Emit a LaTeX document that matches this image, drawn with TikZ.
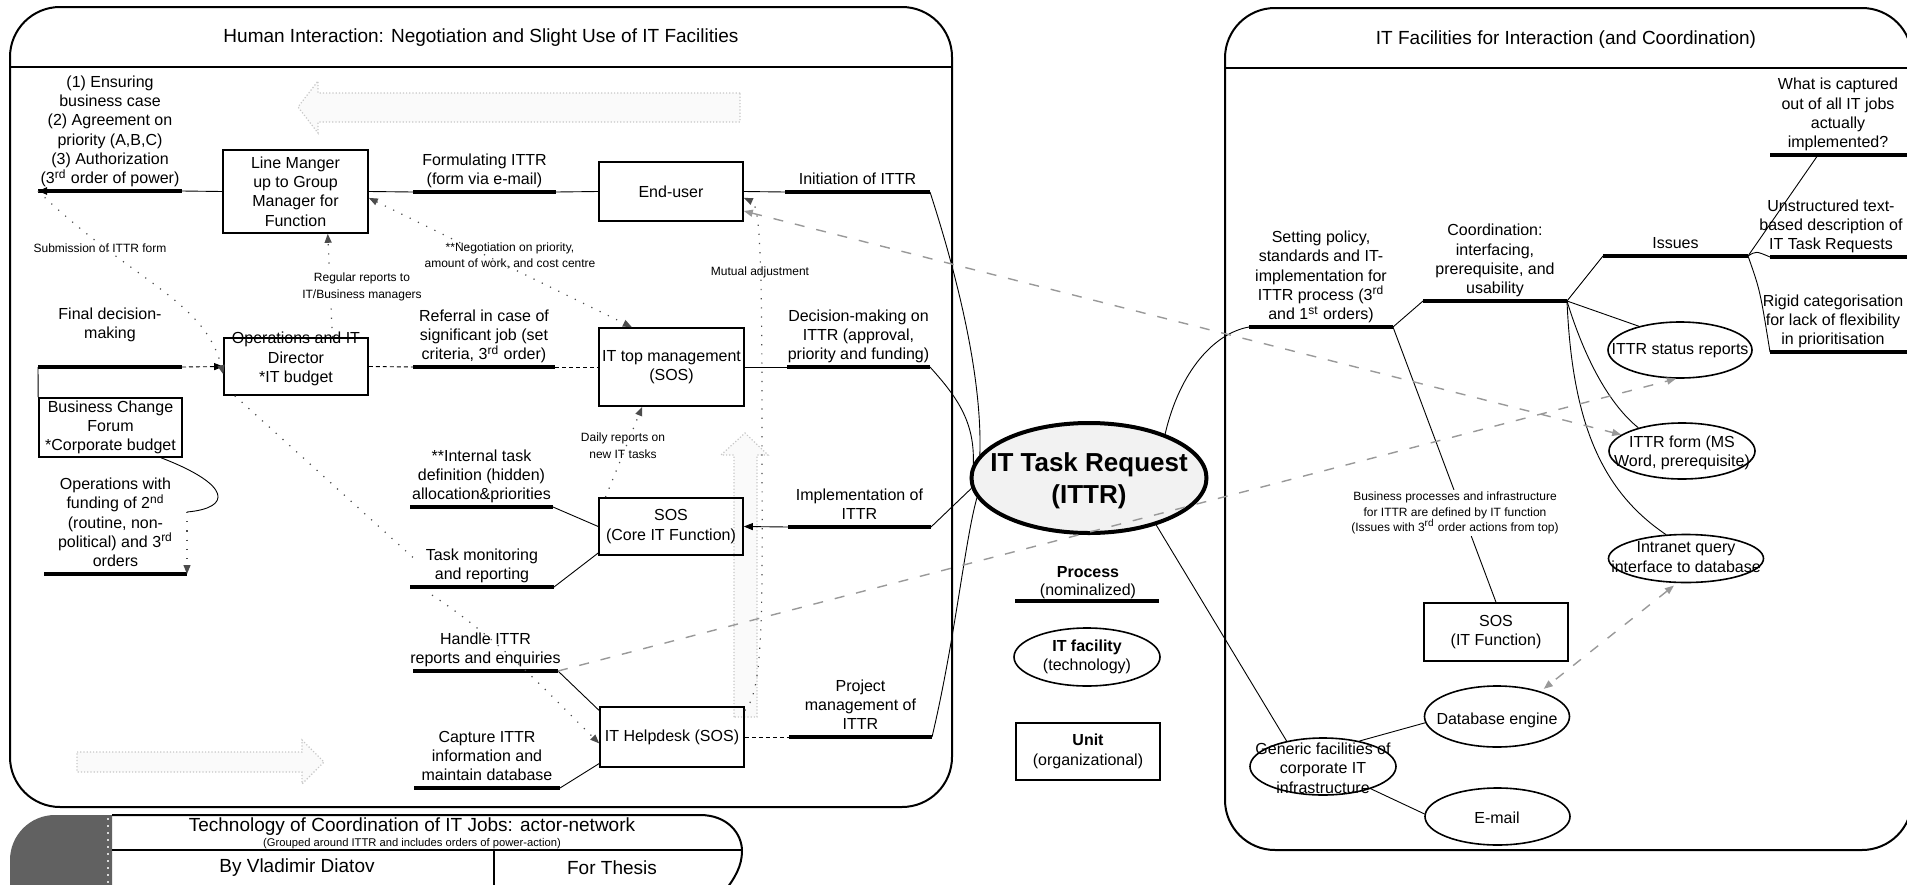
\documentclass[tikz,border=0pt]{standalone}
\usepackage{fontspec}
\setmainfont{Liberation Sans}
\usetikzlibrary{shapes.geometric,arrows.meta,calc}

\newcommand\fsmain{\fontsize{8}{9.65}\selectfont}
\newcommand\fsnote{\fontsize{6}{8.3}\selectfont}
\newcommand\fshead{\fontsize{9.5}{11}\selectfont}
\newcommand\fstiny{\fontsize{5.6}{6.4}\selectfont}
\newcommand\fscore{\fontsize{13}{16}\selectfont\bfseries}

\begin{document}
\begin{tikzpicture}[x=0.5pt, y=-0.5pt,
  panel/.style={line width=1pt},
  unitbox/.style={draw, line width=0.8pt, rectangle, inner sep=0pt, font=\fsmain, align=center},
  facility/.style={draw, ellipse, line width=0.8pt, inner sep=0pt},
  ftext/.style={font=\fsmain, align=center, inner sep=0pt},
  plabel/.style={font=\fsmain, align=center, inner sep=0pt, anchor=south, execute at end node=\strut},
  note/.style={font=\fsnote, align=center, inner sep=0pt},
  bar/.style={line width=1.8pt},
  link/.style={line width=0.45pt},
  finedash/.style={line width=0.45pt, dash pattern=on 2pt off 1.5pt},
  dotlink/.style={line width=0.6pt, dash pattern=on 0.6pt off 4pt, black!70},
  dashlink/.style={line width=0.7pt, dash pattern=on 5pt off 6pt, black!40},
  tip/.style={-{Triangle[length=4.5pt,width=3.5pt]}},
  tips/.style={{Triangle[length=4.5pt,width=3.5pt]}-{Triangle[length=4.5pt,width=3.5pt]}},
  ghost/.style={fill=black!2, draw=black!22, densely dotted, line width=0.6pt},
]
\useasboundingbox (0,0) rectangle (1907,884);

% ---------- faint block arrows in the background ----------
\path[ghost] (740,93) -- (318,93) -- (318,81) -- (298,107) -- (318,133) -- (318,122) -- (740,122) -- cycle;
\path[ghost] (77,752) -- (302,752) -- (302,740) -- (324,762) -- (302,784) -- (302,772) -- (77,772) -- cycle;
\path[ghost] (734,717) -- (734,455) -- (721,455) -- (745,433) -- (768,455) -- (757,455) -- (757,717) -- cycle;

% ---------- panels ----------
\draw[panel, rounded corners=25pt] (10,7) rectangle (952,807);
\draw[panel] (10,67) -- (952,67);
\draw[panel, rounded corners=25pt] (1225,8) rectangle (1912,850);
\draw[panel] (1225,68) -- (1912,68);
\node[font=\fshead] (titleL) at (481,38) {Human Interaction: Negotiation and Slight Use of IT Facilities};
\node[font=\fshead] (titleR) at (1566,40) {IT Facilities for Interaction (and Coordination)};

% ---------- footer ----------
\fill[black!62] (112,815) -- (55,815) arc[start angle=270, end angle=180, radius=45] -- (10,910) -- (112,910) -- cycle;
\draw[black!15, line width=1pt, dash pattern=on 1pt off 2.5pt] (108,818) -- (108,884);
\draw[panel] (112,815) -- (700,815) .. controls (728,815) and (742,834) .. (742,851) .. controls (742,866) and (735,878) .. (724,892);
\draw[panel] (112,850) -- (742,850);
\draw[panel] (494,850) -- (494,892);
\node[font=\fshead] (ftitle) at (412,827) {Technology of Coordination of IT Jobs: actor-network};
\node[font=\fstiny] (fsub) at (412,844) {(Grouped around ITTR and includes orders of power-action)};
\node[font=\fshead] (fauthor) at (297,868) {By Vladimir Diatov};
\node[font=\fshead] (fthesis) at (612,868) {For Thesis};

% ---------- units (organizational) ----------
\node[unitbox, minimum width=72.5pt, minimum height=41.5pt] (lm) at (295.5,191.5) {Line Manger\\up to Group\\Manager for\\Function};
\node[unitbox, minimum width=72pt, minimum height=29.5pt] (eu) at (671,191.5) {End-user};
\node[unitbox, minimum width=72pt, minimum height=28.5pt] (ops) at (296,366.5) {};
\node[ftext] (opsT) at (296,359) {Operations and IT\\Director\\*IT budget};
\node[unitbox, minimum width=72.5pt, minimum height=39pt] (ittm) at (671.5,367) {IT top management\\(SOS)};
\node[unitbox, minimum width=71.5pt, minimum height=29.5pt] (bcf) at (110.5,427.5) {Business Change\\Forum\\*Corporate budget};
\node[unitbox, minimum width=72pt, minimum height=28.5pt] (sos) at (671,526.5) {SOS\\(Core IT Function)};
\node[unitbox, minimum width=72pt, minimum height=30pt] (hd) at (672,737) {IT Helpdesk (SOS)};
\node[unitbox, minimum width=72pt, minimum height=29pt] (sosit) at (1496,632) {SOS\\(IT Function)};

% ---------- central actor ----------
\node[draw, ellipse, line width=2pt, fill=black!5, minimum width=117.5pt, minimum height=55pt, inner sep=0pt] (ittr) at (1089,478) {};
\node[font=\fscore, align=center, inner sep=0pt] (ittrT) at (1089,481) {IT Task Request\\(ITTR)};

% ---------- legend ----------
\node[font=\fsmain\bfseries, inner sep=0pt] (legP) at (1088,572) {Process};
\node[ftext] (legPn) at (1088,591) {(nominalized)};
\coordinate (legBarL) at (1015,601); \coordinate (legBarR) at (1159,601);
\draw[bar] (legBarL) -- (legBarR);
\node[facility, minimum width=73pt, minimum height=29pt] (legF) at (1087,657) {};
\node[ftext] (legFT) at (1087,657) {\textbf{IT facility}\\(technology)};
\node[unitbox, minimum width=72pt, minimum height=28.5pt] (legU) at (1088,751.5) {\textbf{Unit}\\(organizational)};

% ---------- IT facilities (technology) ----------
\node[facility, minimum width=72pt, minimum height=28pt] (status) at (1680,350) {};
\node[ftext] (statusT) at (1680,351) {ITTR status reports};
\node[facility, minimum width=73pt, minimum height=28pt] (form) at (1682,451) {};
\node[ftext] (formT) at (1682,453) {ITTR form (MS\\Word, prerequisite)};
\node[facility, minimum width=77.5pt, minimum height=24pt] (intr) at (1686,558.5) {};
\node[ftext] (intrT) at (1686,557) {Intranet query\\interface to database};
\node[facility, minimum width=72.5pt, minimum height=30.5pt] (dbe) at (1497,716.5) {};
\node[ftext] (dbeT) at (1497,720) {Database engine};
\node[facility, minimum width=72.5pt, minimum height=28.5pt] (email) at (1497.5,816.5) {};
\node[ftext] (emailT) at (1497,818) {E-mail};
\node[facility, minimum width=73pt, minimum height=28.5pt] (gen) at (1323,766.5) {};
\node[ftext] (genT) at (1323,768) {Generic facilities of\\corporate IT\\infrastructure};

% ---------- processes (label over a heavy bar) ----------
\node[plabel] (lAuth) at (110,190) {(1) Ensuring\\business case\\(2) Agreement on\\priority (A,B,C)\\(3) Authorization\\(3\textsuperscript{rd} order of power)};
\coordinate (pAuthL) at (38,191); \coordinate (pAuthR) at (182,191);
\node[plabel] (lForm) at (484.5,191) {Formulating ITTR\\(form via e-mail)};
\coordinate (pFormL) at (413,192); \coordinate (pFormR) at (556,192);
\node[plabel] (lInit) at (857.5,191) {Initiation of ITTR};
\coordinate (pInitL) at (785,192); \coordinate (pInitR) at (930,192);
\node[plabel] (lFinal) at (110,345) {Final decision-\\making};
\coordinate (pFinalL) at (38,367); \coordinate (pFinalR) at (182,367);
\node[plabel] (lRef) at (484,366) {Referral in case of\\significant job (set\\criteria, 3\textsuperscript{rd} order)};
\coordinate (pRefL) at (413,367); \coordinate (pRefR) at (555,367);
\node[plabel] (lDec) at (858.5,366) {Decision-making on\\ITTR (approval,\\priority and funding)};
\coordinate (pDecL) at (787,367); \coordinate (pDecR) at (930,367);
\node[plabel] (lOpw) at (115.5,573) {Operations with\\funding of 2\textsuperscript{nd}\\(routine, non-\\political) and 3\textsuperscript{rd}\\orders};
\coordinate (pOpwL) at (44,574); \coordinate (pOpwR) at (187,574);
\node[plabel] (lInt) at (481.5,506) {**Internal task\\definition (hidden)\\allocation\&priorities};
\coordinate (pIntL) at (410,507); \coordinate (pIntR) at (553,507);
\node[plabel] (lMon) at (482,586) {Task monitoring\\and reporting};
\coordinate (pMonL) at (410,587); \coordinate (pMonR) at (554,587);
\node[plabel] (lImp) at (859.5,526) {Implementation of\\ITTR};
\coordinate (pImpL) at (788,527); \coordinate (pImpR) at (931,527);
\node[plabel] (lHan) at (485.5,670) {Handle ITTR\\reports and enquiries};
\coordinate (pHanL) at (413,671); \coordinate (pHanR) at (558,671);
\node[plabel] (lCap) at (487,787) {Capture ITTR\\information and\\maintain database};
\coordinate (pCapL) at (414,788); \coordinate (pCapR) at (560,788);
\node[plabel] (lProj) at (860.5,736) {Project\\management of\\ITTR};
\coordinate (pProjL) at (789,737); \coordinate (pProjR) at (932,737);

\node[plabel] (lSet) at (1321,326) {Setting policy,\\standards and IT-\\implementation for\\ITTR process (3\textsuperscript{rd}\\and 1\textsuperscript{st} orders)};
\coordinate (pSetL) at (1249,327); \coordinate (pSetR) at (1393,327);
\node[plabel] (lCoord) at (1495,300) {Coordination:\\interfacing,\\prerequisite, and\\usability};
\coordinate (pCoordL) at (1423,301); \coordinate (pCoordR) at (1567,301);
\node[plabel] (lIss) at (1675.5,255) {Issues};
\coordinate (pIssL) at (1603,256); \coordinate (pIssR) at (1748,256);
\node[plabel] (lWhat) at (1838,154) {What is captured\\out of all IT jobs\\actually\\implemented?};
\coordinate (pWhatL) at (1770,155); \coordinate (pWhatR) at (1915,155); \coordinate (pWhatJ) at (1818,155);
\node[plabel] (lUns) at (1831,256) {Unstructured text-\\based description of\\IT Task Requests};
\coordinate (pUnsL) at (1770,257); \coordinate (pUnsR) at (1915,257);
\node[plabel] (lRig) at (1833,351) {Rigid categorisation\\for lack of flexibility\\in prioritisation};
\coordinate (pRigL) at (1770,352); \coordinate (pRigR) at (1915,352);

\foreach \p in {Auth,Form,Init,Final,Ref,Dec,Opw,Int,Mon,Imp,Han,Cap,Proj,Set,Coord,Iss,What,Uns,Rig}
  \draw[bar] (p\p L) -- (p\p R);
\draw[tip, line width=1.2pt] (pAuthL) ++(10,0) -- (pAuthL);

% ---------- small notes ----------
\node[note] (nSub) at (100,248) {Submission of ITTR form};
\node[note] (nNeg) at (510,256) {**Negotiation on priority,\\amount of work, and cost centre};
\node[note] (nMut) at (760,272) {Mutual adjustment};
\node[note] (nDaily) at (623,446) {Daily reports on\\new IT tasks};

% ---------- solid connectors, left panel ----------
\draw[link] (pAuthR) -- (lm.west);
\draw[link] (lm.east) -- (pFormL);
\draw[link] (pFormR) -- (eu.west);
\draw[link] (eu.east) -- (pInitL);
\draw[link] (pInitR) .. controls (965,300) and (982,390) .. (ittr.168);
\draw[finedash, tip] (pFinalR) -- (ops.west);
\draw[link] (pFinalL) -- (bcf.north west);
\draw[finedash] (ops.east) -- (pRefL);
\draw[finedash] (pRefR) -- (ittm.west);
\draw[link] (ittm.east) -- (pDecL);
\draw[link] (pDecR) .. controls (955,395) and (975,420) .. (ittr.173);
\coordinate (opwBend) at (187,512);
\draw[link] ($(bcf.south east)!0.15!(bcf.south west)$) .. controls (232,485) and (232,508) .. (opwBend);
\draw[dotlink, tip] (opwBend) -- (pOpwR);
\draw[link] (pIntR) -- (sos.west);
\draw[link] (pMonR) -- (sos.200);
\draw[link, tip] (pImpL) -- (sos.east);
\draw[link] (pImpR) -- (ittr.185);
\draw[link] (pHanR) -- (hd.160);
\draw[link] (pCapR) -- (hd.200);
\draw[finedash] (hd.east) -- (pProjL);
\draw[link] (pProjR) .. controls (955,640) and (965,540) .. (ittr.190);

% ---------- dotted connectors, left panel ----------
\draw[dotlink, tips] (lm.-5) -- ($(ittm.north west)!0.23!(ittm.north east)$);
\draw[dotlink, tip] ($(ops.north west)!0.75!(ops.north east)$) -- ($(lm.south west)!0.72!(lm.south east)$);
\draw[dotlink, tip] (pAuthL) .. controls (130,280) and (205,300) .. (ops.186);
\coordinate (monIn) at (418,562);
\coordinate (monOut) at (432,595);
\draw[dotlink] ($(ops.south west)!0.08!(ops.south east)$) -- (monIn);
\draw[dotlink, tip] (monOut) .. controls (500,640) and (545,690) .. (hd.185);
\draw[dotlink, tip] ($(sos.north west)!0.05!(sos.north east)$) -- ($(ittm.south west)!0.3!(ittm.south east)$);
\draw[dotlink, tip] (hd.20) .. controls (765,690) and (762,600) .. (762,420) .. controls (762,260) and (760,205) .. (eu.-5);
\node[note, fill=white, inner sep=1pt] (nReg) at (362,287) {Regular reports to\\IT/Business managers};

% ---------- connectors, right panel ----------
\draw[link] (pSetL) .. controls (1215,333) and (1180,370) .. (ittr.30);
\draw[link] (pSetR) -- (pCoordL);
\draw[link] (pSetR) -- (sosit.north);
\draw[link] (pCoordR) -- (pIssL);
\draw[link] (pIssR) -- (pWhatJ);
\draw[link] (pIssR) .. controls (1756,251) .. (pUnsL);
\draw[link] (pIssR) .. controls (1760,290) .. (pRigL);
\draw[link] (pCoordR) -- (status.150);
\draw[link] (pCoordR) .. controls (1585,360) and (1610,405) .. (form.152);
\draw[link] (pCoordR) .. controls (1572,420) and (1600,490) .. (intr.130);
\draw[link] (ittr.-35) -- (gen.145);
\draw[link] (gen.35) -- (dbe.185);
\draw[link] (gen.-25) -- (email.178);
\node[note, fill=white, inner sep=1pt, font=\fontsize{6}{7.8}\selectfont] (nBiz) at (1455,513) {Business processes and infrastructure\\for ITTR are defined by IT function\\(Issues with 3\textsuperscript{rd} order actions from top)};

% ---------- dashed cross-panel links ----------
\draw[dashlink, tips] (eu.-15) -- (form.165);
\draw[dashlink, tip] (pHanR) -- (status.262);
\draw[dashlink, tips, shorten <=2pt, shorten >=2pt] (intr.250) -- (dbe.30);

\end{tikzpicture}
\end{document}
